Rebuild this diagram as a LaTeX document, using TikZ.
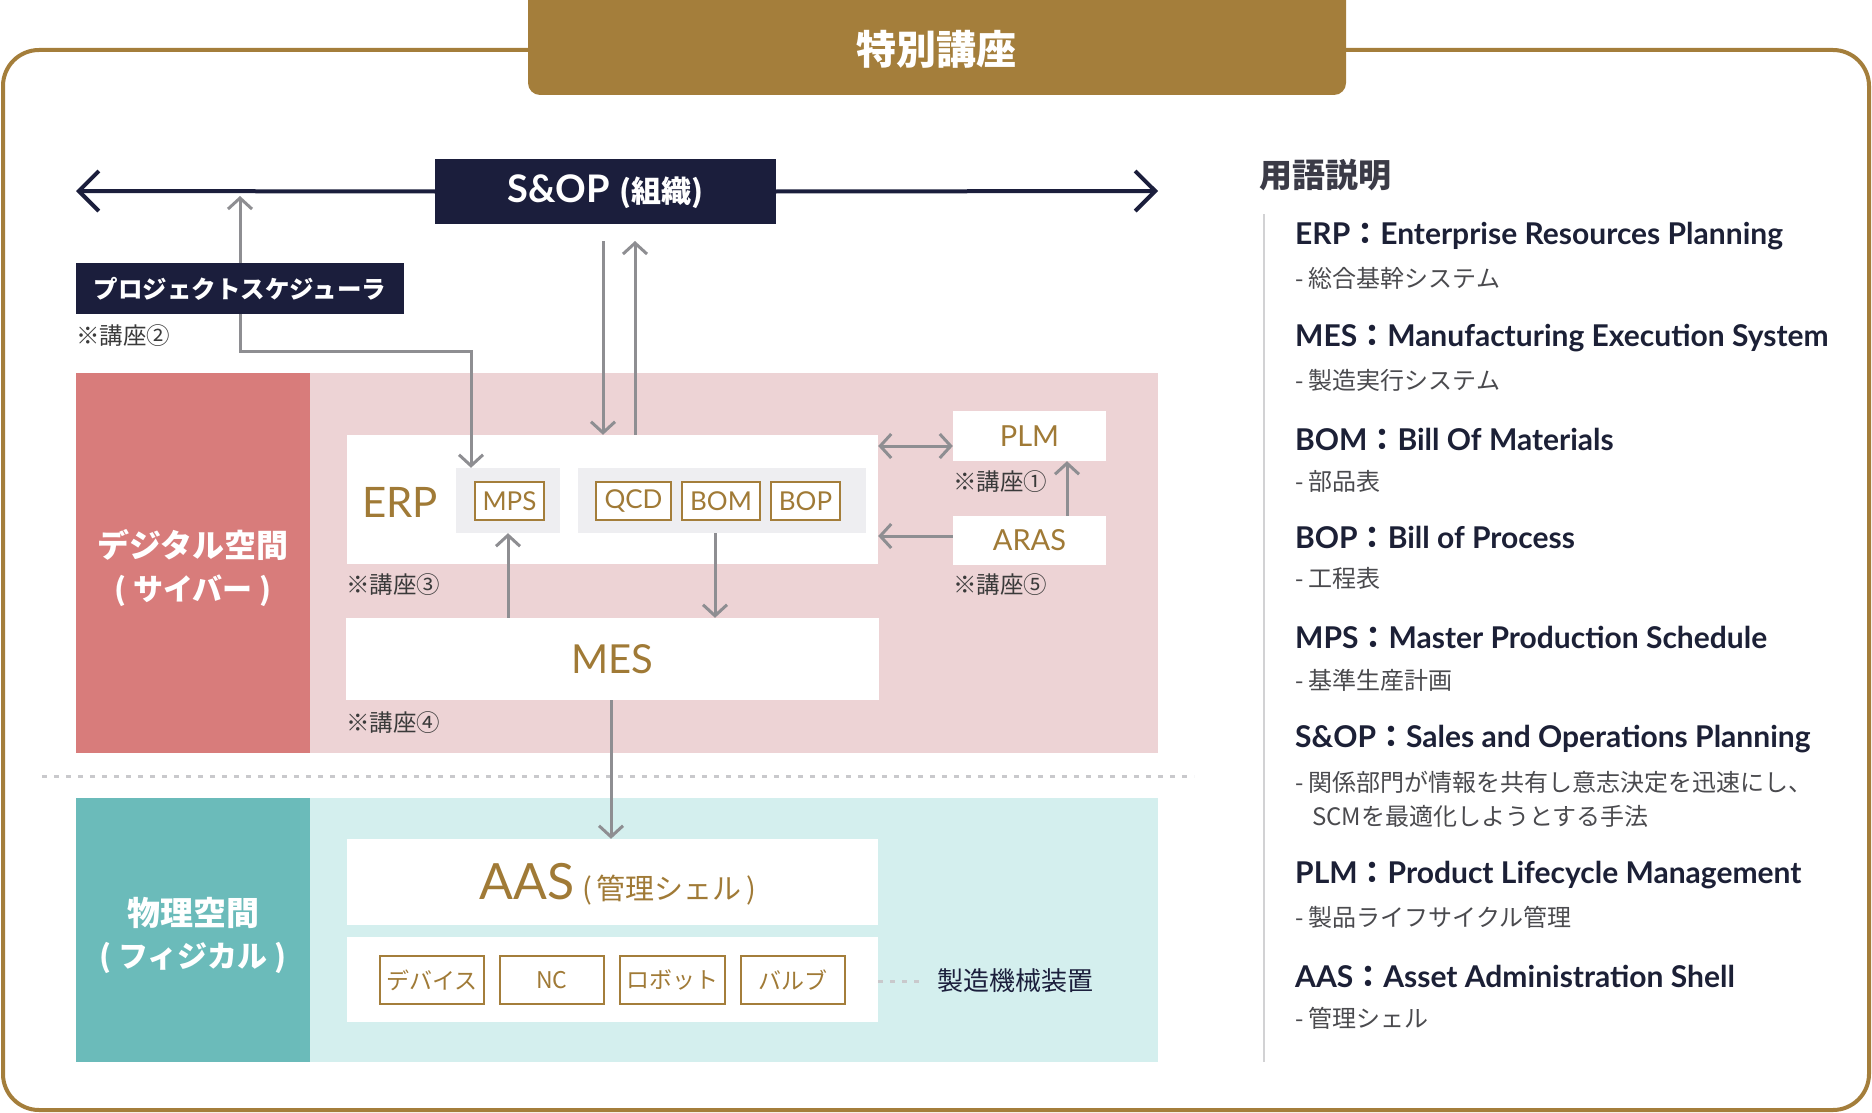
\documentclass[tikz,border=0pt]{standalone}
\usepackage{fontspec}
\setmainfont{Lato}
\newfontfamily\jp{Noto Sans CJK JP}
\usetikzlibrary{arrows.meta}
\definecolor{gold}{HTML}{A47E3B}
\definecolor{goldtxt}{HTML}{A07A36}
\definecolor{navy}{HTML}{1B1E3C}
\definecolor{pinkbg}{HTML}{EDD3D5}
\definecolor{pinkdk}{HTML}{D87C7B}
\definecolor{cyanbg}{HTML}{D4EFEE}
\definecolor{tealdk}{HTML}{6BBBBA}
\definecolor{boxgray}{HTML}{EEEEF1}
\definecolor{arrgray}{HTML}{8E8E92}
\definecolor{dotgray}{HTML}{C9C9CC}
\definecolor{legtitle}{HTML}{1C2036}
\definecolor{leghead}{HTML}{3B3B47}
\definecolor{legsub}{HTML}{4A4A4E}
\definecolor{notegray}{HTML}{3A3A3A}
\definecolor{vline}{HTML}{D2D2D4}
\newcommand\fsz[1]{\fontsize{#1}{#1}\selectfont}
\begin{document}
\begin{tikzpicture}[x=1pt,y=-1pt,
  wbox/.style={fill=white, inner sep=0pt},
  gbox/.style={fill=boxgray, inner sep=0pt},
  tagbox/.style={draw=gold, line width=2pt, fill=white, inner sep=0pt, text=goldtxt, minimum height=38pt},
  nbox/.style={fill=navy, text=white, inner sep=0pt},
  garr/.style={draw=arrgray, line width=3pt, ->},
  navarr/.style={draw=navy, line width=4pt, -{Straight Barb[length=20pt,width=40pt]}},
  note/.style={anchor=west, inner sep=0pt, text=notegray, font=\jp\fsz{23.5}},
  sidelbl/.style={text=white, inner sep=0pt},
  legt/.style={anchor=west, inner sep=0pt, text=legtitle, font=\bfseries\fsz{30}},
  legs/.style={anchor=west, inner sep=0pt, text=legsub, font=\jp\fsz{24}},
  dotline/.style={draw=dotgray, line width=3pt, dash pattern=on 5pt off 7pt},
  >={Straight Barb[length=11pt,width=24pt]}]
\useasboundingbox (0,0) rectangle (1872,1113);
% frame and title tab
\draw[gold, line width=4pt, rounded corners=36pt] (3,50) rectangle (1869,1110);
\fill[gold, rounded corners=12pt] (528,-20) rectangle (1346,95);
\node[text=white, font=\jp\bfseries\fsz{40}, inner sep=0pt] (title) at (936,49) {特別講座};

% bands
\fill[pinkbg] (76,373) rectangle (1158,753);
\fill[pinkdk] (76,373) rectangle (310,753);
\node[sidelbl, font=\jp\bfseries\fsz{32}] (dig1) at (193,545) {デジタル空間};
\node[sidelbl, font=\jp\bfseries\fsz{30}] (dig2) at (193,591) {( サイバー )};
\fill[cyanbg] (76,798) rectangle (1158,1062);
\fill[tealdk] (76,798) rectangle (310,1062);
\node[sidelbl, font=\jp\bfseries\fsz{33}] (phy1) at (193,913) {物理空間};
\node[sidelbl, font=\jp\bfseries\fsz{30}] (phy2) at (193,958) {( フィジカル )};

% S&OP
\coordinate (L) at (76,191);
\coordinate (R) at (1158,191);
\node[nbox, minimum width=341pt, minimum height=65pt] (sop) at (605.5,191.5) {\bfseries\fsz{38}S\&OP {\jp\fsz{30}(組織)}};
\draw[navarr] (sop.west) -- (L);
\draw[navarr] (sop.east) -- (R);

% project scheduler
\node[nbox, minimum width=328pt, minimum height=51pt, font=\jp\bfseries\fsz{24.5}] (ps) at (240,288.5) {プロジェクトスケジューラ};
\node[note] (n2) at (76,336) {※講座②};

% ERP
\node[wbox, minimum width=531pt, minimum height=129pt] (erp) at (612.5,499.5) {};
\node[text=goldtxt, font=\fsz{42}, inner sep=0pt] (erpt) at (400,502) {ERP};
\node[gbox, minimum width=104pt, minimum height=65pt] (mpsg) at (508,500.5) {};
\node[tagbox, minimum width=69pt, font=\fsz{26}] (mps) at (509.5,501) {MPS};
\node[gbox, minimum width=288pt, minimum height=65pt] (grp) at (722,500.5) {};
\node[tagbox, minimum width=75pt, font=\fsz{26}] (qcd) at (633.5,501) {QCD};
\node[tagbox, minimum width=78pt, font=\fsz{26}] (bom) at (721,501) {BOM};
\node[tagbox, minimum width=69pt, font=\fsz{26}] (bop) at (805.5,501) {BOP};
\node[note] (n3) at (346,585) {※講座③};

% PLM / ARAS
\node[wbox, minimum width=153pt, minimum height=50pt, text=goldtxt, font=\fsz{29}] (plm) at (1029.5,436) {PLM};
\node[note] (n1) at (953,482) {※講座①};
\node[wbox, minimum width=153pt, minimum height=49pt, text=goldtxt, font=\fsz{29}] (aras) at (1029.5,540.5) {ARAS};
\node[note] (n5) at (953,585) {※講座⑤};

% MES
\node[wbox, minimum width=533pt, minimum height=82pt, text=goldtxt, font=\fsz{40}] (mes) at (612.5,659) {MES};
\node[note] (n4) at (346,723) {※講座④};

% separator
\coordinate (sepa) at (42,776);
\coordinate (sepb) at (1194,776);
\draw[dotline] (sepa) -- (sepb);

% AAS
\node[wbox, minimum width=531pt, minimum height=86pt] (aas) at (612.5,882) {};
\node[text=goldtxt, inner sep=0pt] (aast) at (618,884) {{\fsz{50}AAS}\hspace{8pt}{\jp\fsz{29}(\,管理シェル\,)}};
\node[wbox, minimum width=531pt, minimum height=85pt] (dev) at (612.5,979.5) {};
\node[tagbox, minimum width=104pt, minimum height=48pt, font=\jp\fsz{23}] (d1) at (432,980) {デバイス};
\node[tagbox, minimum width=104pt, minimum height=48pt, font=\jp\fsz{23}] (d2) at (552,980) {NC};
\node[tagbox, minimum width=105pt, minimum height=48pt, font=\jp\fsz{23}] (d3) at (672.5,980) {ロボット};
\node[tagbox, minimum width=104pt, minimum height=48pt, font=\jp\fsz{23}] (d4) at (792.5,980) {バルブ};
\coordinate (dl) at (926,981);
\draw[dotline] (dev.east |- dl) -- (dl);
\node[anchor=west, inner sep=0pt, text=navy, font=\jp\fsz{26}] (mach) at (937,981) {製造機械装置};

% connectors
\coordinate (psup) at (240,196);
\draw[garr] (ps.north) -- (psup);
\coordinate (psk) at (471,351);
\draw[garr] (ps.south) |- (psk) -- (psk |- mpsg.north);
\coordinate (sa) at (603,241);
\coordinate (sb) at (635,241);
\draw[garr] (sa) -- (sa |- erp.north);
\draw[garr] (sb |- erp.north) -- (sb);
\coordinate (yp) at (0,446);
\draw[garr, <->] (erp.east |- yp) -- (plm.west |- yp);
\coordinate (ya) at (0,536);
\draw[garr] (aras.west |- ya) -- (erp.east |- ya);
\coordinate (xa) at (1067,0);
\draw[garr] (aras.north -| xa) -- (plm.south -| xa);
\draw[garr] (mes.north -| mpsg.south) -- (mpsg.south);
\coordinate (xq) at (715,0);
\draw[garr] (grp.south -| xq) -- (mes.north -| xq);
\coordinate (xm) at (611,0);
\draw[garr] (mes.south -| xm) -- (aas.north -| xm);

% legend
\node[anchor=west, inner sep=0pt, text=leghead, font=\jp\bfseries\fsz{33}] (lg) at (1259,175) {用語説明};
\coordinate (v1) at (1264,214);
\coordinate (v2) at (1264,1062);
\draw[vline, line width=2pt] (v1) -- (v2);
\node[legt] (t1) at (1295,236) {ERP{\jp ：}Enterprise Resources Planning};
\node[legs] (u1) at (1295,278) {- 総合基幹システム};
\node[legt] (t2) at (1295,338) {MES{\jp ：}Manufacturing Execution System};
\node[legs] (u2) at (1295,380) {- 製造実行システム};
\node[legt] (t3) at (1295,439) {BOM{\jp ：}Bill Of Materials};
\node[legs] (u3) at (1295,481) {- 部品表};
\node[legt] (t4) at (1295,537) {BOP{\jp ：}Bill of Process};
\node[legs] (u4) at (1295,578) {- 工程表};
\node[legt] (t5) at (1295,637) {MPS{\jp ：}Master Production Schedule};
\node[legs] (u5) at (1295,680) {- 基準生産計画};
\node[legt] (t6) at (1295,739) {S\&OP{\jp ：}Sales and Operations Planning};
\node[legs] (u6) at (1295,782) {- 関係部門が情報を共有し意志決定を迅速にし、};
\node[legs] (u6b) at (1312,816) {SCMを最適化しようとする手法};
\node[legt] (t7) at (1295,875) {PLM{\jp ：}Product Lifecycle Management};
\node[legs] (u7) at (1295,917) {- 製品ライフサイクル管理};
\node[legt] (t8) at (1295,976) {AAS{\jp ：}Asset Administration Shell};
\node[legs] (u8) at (1295,1018) {- 管理シェル};
\end{tikzpicture}
\end{document}
